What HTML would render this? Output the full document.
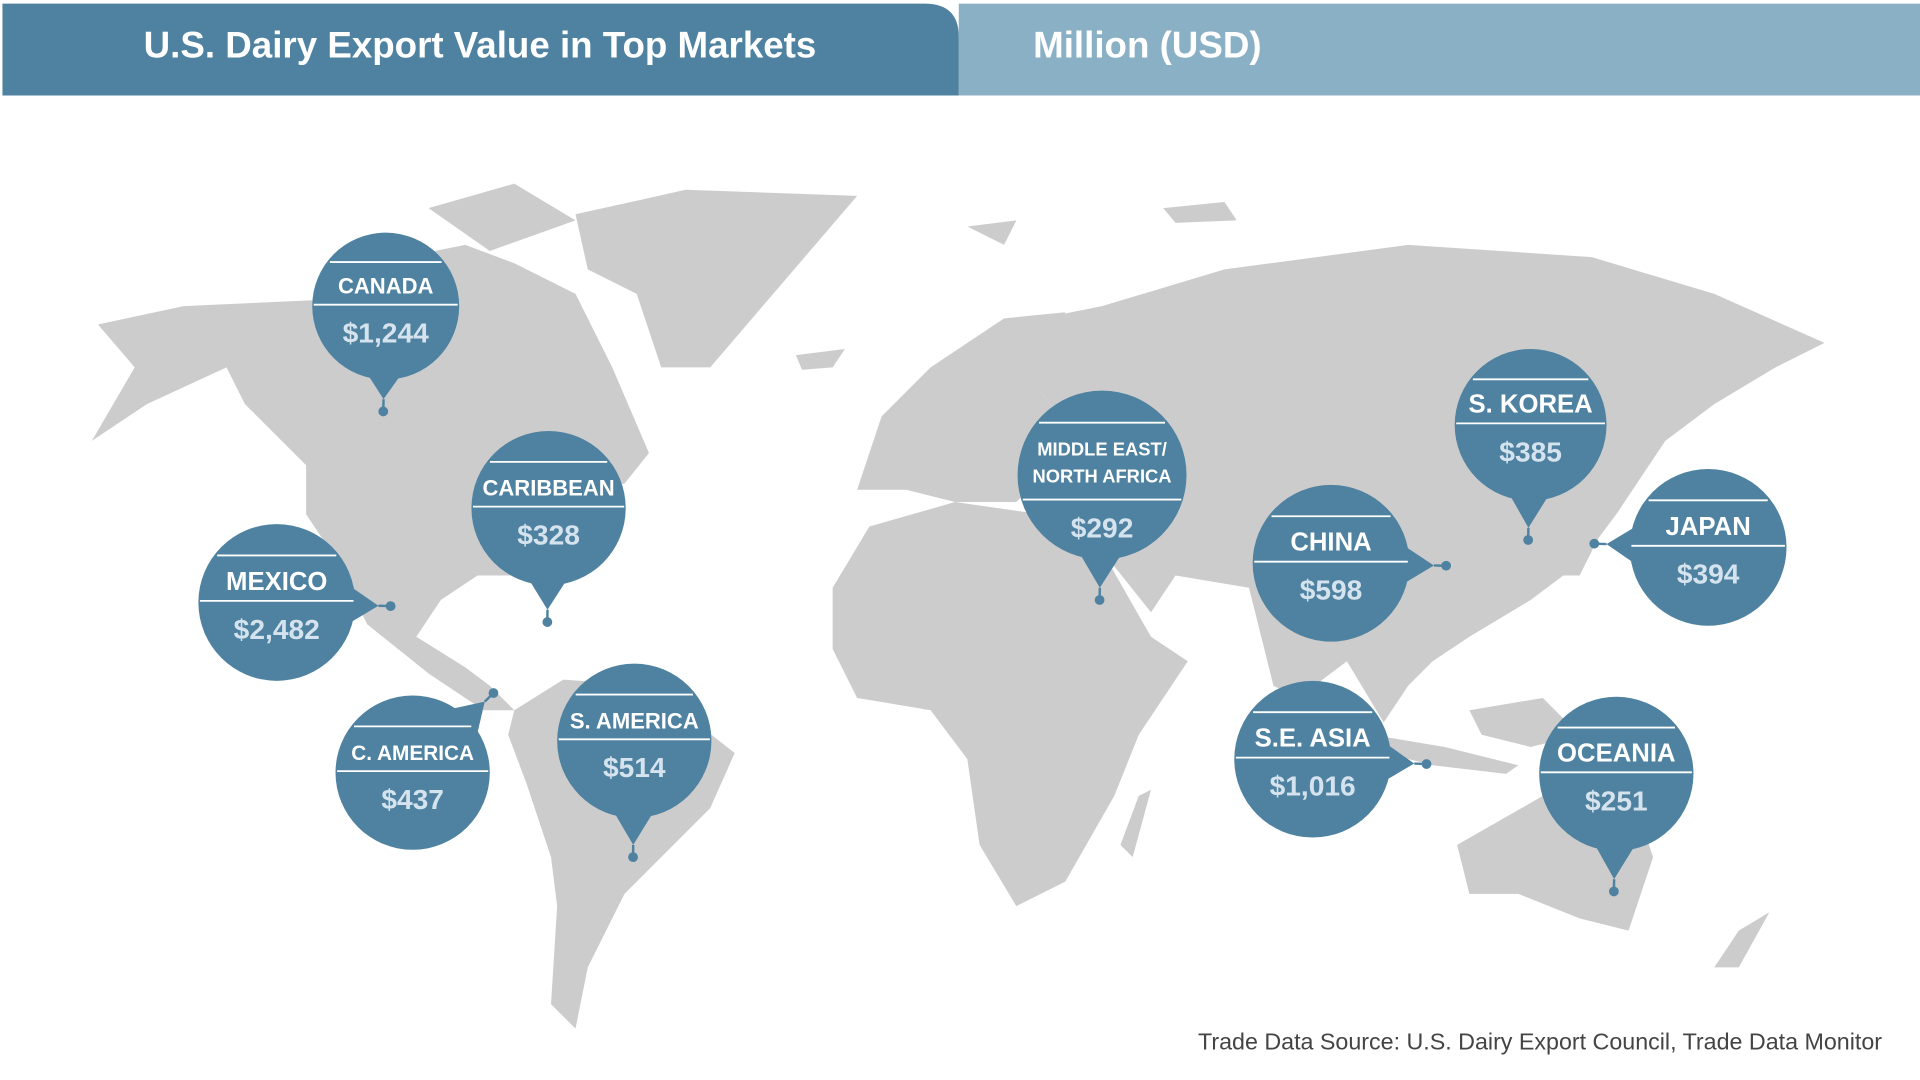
<!DOCTYPE html>
<html><head><meta charset="utf-8"><style>
html,body{margin:0;padding:0;background:#fff;width:1920px;height:1080px;overflow:hidden}
svg{display:block}
text{font-family:"Liberation Sans",sans-serif;font-weight:bold}
</style></head><body>
<svg id="s" width="1920" height="1080" viewBox="0 0 1568 882">
<rect x="0" y="0" width="1568" height="882" fill="#fff"/>
<rect x="783" y="3" width="785" height="75" fill="#8ab0c6"/>
<path d="M2,3 H755 Q783,3 783,30 V78 H2 Z" fill="#4e82a0"/>
<text x="392" y="47" font-size="30" fill="#fff" text-anchor="middle">U.S. Dairy Export Value in Top Markets</text>
<text x="937" y="47" font-size="30" fill="#fff" text-anchor="middle">Million (USD)</text>
<g fill="#cccccc">
<polygon points="80,265 150,250 260,245 330,210 380,200 420,215 470,240 500,300 530,370 510,395 470,400 450,430 420,470 390,470 360,490 340,520 380,545 400,560 420,580 395,580 350,550 300,510 270,450 250,420 250,380 200,330 185,300 120,330 75,360 110,300"/>
<polygon points="470,175 560,155 700,160 640,230 580,300 540,300 520,240 480,220"/>
<polygon points="350,170 420,150 470,180 400,205"/>
<polygon points="420,580 460,555 530,560 600,615 580,660 540,700 510,730 480,790 470,840 450,820 455,740 450,700 430,640 415,600"/>
<polygon points="700,400 720,340 760,300 820,260 870,255 850,320 880,360 830,410 780,410 740,400"/>
<polygon points="680,480 710,430 780,410 850,420 900,450 940,520 970,540 930,600 910,650 870,720 830,740 800,690 790,620 760,580 700,570 680,530"/>
<polygon points="850,260 900,250 1000,220 1150,200 1300,210 1400,240 1490,280 1450,300 1400,330 1360,360 1320,420 1290,460 1250,490 1200,520 1170,540 1150,560 1130,590 1100,540 1060,570 1040,560 1020,480 960,470 940,500 900,450 870,410 880,360 850,320"/>
<polygon points="1270,440 1300,400 1320,410 1290,470 1260,470"/>
<polygon points="1120,600 1180,610 1240,625 1230,632 1170,625 1120,612"/>
<polygon points="1200,580 1260,570 1290,600 1250,610 1210,600"/>
<polygon points="1190,690 1260,650 1330,640 1350,700 1330,760 1290,750 1240,730 1200,730"/>
<polygon points="1420,760 1445,745 1420,790 1400,790"/>
<polygon points="930,650 940,645 925,700 915,690"/>
<polygon points="650,290 690,285 680,300 655,302"/>
<polygon points="720,340 740,335 745,380 720,385"/>
<polygon points="950,170 1000,165 1010,180 960,182"/>
<polygon points="790,185 830,180 820,200"/>
</g>
<g id="b"></g>
<text x="1537" y="857" font-size="19" fill="#444" text-anchor="end" style="font-weight:normal">Trade Data Source: U.S. Dairy Export Council, Trade Data Monitor</text>
</svg>
<script>
var B=[
["CANADA","$1,244",315,250,60,313,336,18],
["CARIBBEAN","$328",448,415,63,447,508,18],
["MEXICO","$2,482",226,492,64,319,495,21],
["C. AMERICA","$437",337,631,63,403,566,17],
["S. AMERICA","$514",518,605,63,517,700,18],
["MIDDLE EAST/|NORTH AFRICA","$292",900,388,69,898,490,15],
["CHINA","$598",1087,460,64,1181,462,21],
["S. KOREA","$385",1250,347,62,1248,441,21],
["JAPAN","$394",1395,447,64,1302,444,21],
["S.E. ASIA","$1,016",1072,620,64,1165,624,21],
["OCEANIA","$251",1320,632,63,1318,728,21]];
var g=document.getElementById('b'),h='';
B.forEach(function(b){
var cx=b[2],cy=b[3],r=b[4],px=b[5],py=b[6];
var dx=px-cx,dy=py-cy,d=Math.hypot(dx,dy),ux=dx/d,uy=dy/d;
var w=r*0.45,bx=cx+ux*r*0.6,by=cy+uy*r*0.6;
var tx=px-ux*10,ty=py-uy*10;
h+='<polygon fill="#4e82a0" points="'+(bx-uy*w)+','+(by+ux*w)+' '+(bx+uy*w)+','+(by-ux*w)+' '+tx+','+ty+'"/>';
h+='<line x1="'+tx+'" y1="'+ty+'" x2="'+px+'" y2="'+py+'" stroke="#4e82a0" stroke-width="2"/>';
h+='<circle cx="'+px+'" cy="'+py+'" r="4" fill="#4e82a0"/>';
h+='<circle cx="'+cx+'" cy="'+cy+'" r="'+r+'" fill="#4e82a0"/>';
var two=b[0].indexOf('|')>=0;
var l1=two?cy-0.62*r:cy-0.6*r, l2=two?cy+0.29*r:cy-0.02*r;
var hw1=Math.sqrt(r*r-(l1-cy)*(l1-cy))*0.95,hw2=Math.sqrt(r*r-(l2-cy)*(l2-cy))*0.98;
h+='<line x1="'+(cx-hw1)+'" y1="'+l1+'" x2="'+(cx+hw1)+'" y2="'+l1+'" stroke="#fff" stroke-width="1.5"/>';
h+='<line x1="'+(cx-hw2)+'" y1="'+l2+'" x2="'+(cx+hw2)+'" y2="'+l2+'" stroke="#fff" stroke-width="1.5"/>';
if(two){var p=b[0].split('|');
h+='<text x="'+cx+'" y="'+(cy-16)+'" font-size="'+b[7]+'" fill="#fff" text-anchor="middle">'+p[0]+'</text>';
h+='<text x="'+cx+'" y="'+(cy+6)+'" font-size="'+b[7]+'" fill="#fff" text-anchor="middle">'+p[1]+'</text>';
}else h+='<text x="'+cx+'" y="'+(l2-9)+'" font-size="'+b[7]+'" fill="#fff" text-anchor="middle">'+b[0]+'</text>';
h+='<text x="'+cx+'" y="'+(l2+31)+'" font-size="23" fill="#d5e3ee" text-anchor="middle">'+b[1]+'</text>';
});
g.innerHTML=h;
</script>
</body></html>
